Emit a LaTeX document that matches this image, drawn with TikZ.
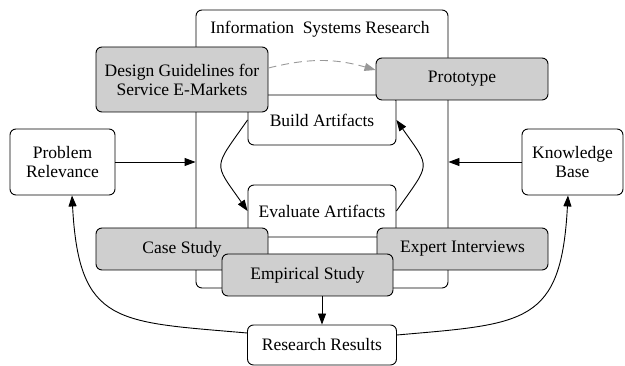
\documentclass[tikz,border=0pt]{standalone}
\usepackage{fontspec}
\setmainfont{Liberation Serif}
\usetikzlibrary{arrows.meta}

\begin{document}
\begin{tikzpicture}[x=1pt,y=1pt,
  box/.style={draw,rounded corners=6pt,fill=white,line width=0.9pt,align=center,font=\fontsize{17.5}{19}\selectfont},
  graybox/.style={box,fill=black!19},
  link/.style={-{Triangle[length=11pt,width=8pt]},line width=0.9pt}]
\useasboundingbox (0,0) rectangle (625,366);

\node[box,minimum width=252pt,minimum height=278pt] (isr) at (322,217) {};
\node[font=\fontsize{17.5}{19}\selectfont] (title) at (320,337) {Information\ \ Systems Research};

\node[box,minimum width=148pt,minimum height=50pt] (build) at (322,246) {Build Artifacts};
\node[box,minimum width=148pt,minimum height=52pt] (eval) at (322,155) {Evaluate Artifacts};

\node[graybox,minimum width=172pt,minimum height=65pt] (design) at (182,286.5) {Design Guidelines for\\Service E-Markets};
\node[graybox,minimum width=172pt,minimum height=42pt] (proto) at (462,287) {Prototype};
\node[graybox,minimum width=172pt,minimum height=42pt] (case) at (182,117) {Case Study};
\node[graybox,minimum width=171pt,minimum height=42pt] (expert) at (462.5,117) {Expert Interviews};
\node[graybox,minimum width=171pt,minimum height=42pt] (empirical) at (307.5,91) {Empirical Study};

\node[box,minimum width=149pt,minimum height=40pt] (results) at (322,21) {Research Results};
\node[box,minimum width=105pt,minimum height=66pt] (problem) at (62.5,204) {Problem\\Relevance};
\node[box,minimum width=101pt,minimum height=66pt] (knowledge) at (572.5,204) {Knowledge\\Base};

\path[draw,link] (problem.east) -- (problem.east -| isr.west);
\path[draw,link] (knowledge.west) -- (knowledge.west -| isr.east);
\path[draw=black!40,link,dash pattern=on 8pt off 5pt] ([yshift=11.5pt]design.east) to[bend left=15] ([yshift=9pt]proto.west);
\path[draw,link] (build.west) to[out=-125,in=125,looseness=1.7] (eval.west);
\path[draw,link] (eval.east) to[out=55,in=-55,looseness=1.7] (build.east);
\path[draw,link] (results.north |- empirical.south) -- (results.north);
\path[draw,link] ([yshift=12pt]results.west) to[out=175,in=-87,looseness=1.5] ([xshift=9.5pt]problem.south);
\path[draw,link] ([yshift=10pt]results.east) to[out=5,in=-93,looseness=1.5] ([xshift=-4.5pt]knowledge.south);
\end{tikzpicture}
\end{document}
